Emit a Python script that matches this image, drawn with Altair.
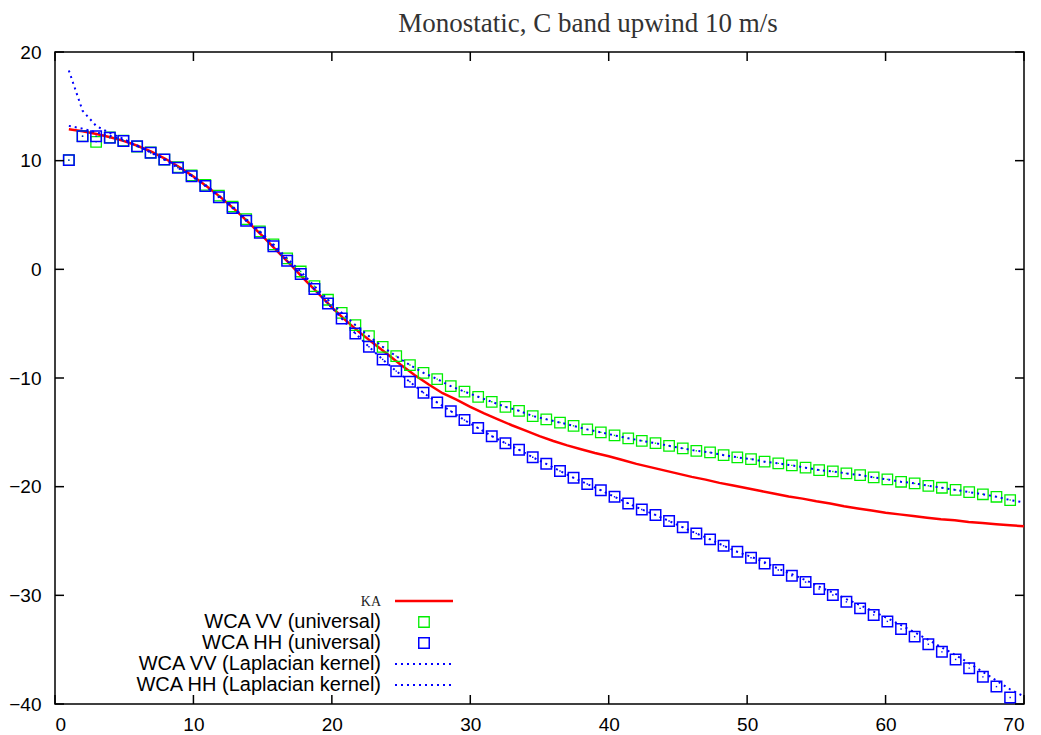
import altair as alt
import pandas as pd

# ---------------- data ----------------
x_grid = [1.00, 1.99, 2.97, 3.96, 4.94, 5.93, 6.91, 7.90, 8.88, 9.87,
          10.86, 11.84, 12.83, 13.81, 14.80, 15.78, 16.77, 17.75, 18.74, 19.72,
          20.71, 21.70, 22.68, 23.67, 24.65, 25.64, 26.62, 27.61, 28.59, 29.58,
          30.57, 31.55, 32.54, 33.52, 34.51, 35.49, 36.48, 37.46, 38.45, 39.43,
          40.42, 41.41, 42.39, 43.38, 44.36, 45.35, 46.33, 47.32, 48.30, 49.29,
          50.28, 51.26, 52.25, 53.23, 54.22, 55.20, 56.19, 57.17, 58.16, 59.14,
          60.13, 61.12, 62.10, 63.09, 64.07, 65.06, 66.04, 67.03, 68.01, 69.00]

vv_universal = [10.05, 12.25, 11.73, 12.15, 11.85, 11.3, 10.75, 10.1, 9.4, 8.65,
                7.78, 6.78, 5.78, 4.62, 3.5, 2.3, 1.0, -0.2, -1.55, -2.8,
                -4.0, -5.13, -6.15, -7.13, -7.99, -8.81, -9.52, -10.1, -10.75, -11.25,
                -11.73, -12.19, -12.65, -13.02, -13.5, -13.8, -14.1, -14.4, -14.73, -15.0,
                -15.28, -15.55, -15.78, -16.0, -16.24, -16.48, -16.7, -16.85, -17.1, -17.3,
                -17.46, -17.7, -17.86, -18.04, -18.25, -18.47, -18.6, -18.78, -18.93, -19.15,
                -19.33, -19.55, -19.7, -19.92, -20.1, -20.3, -20.5, -20.7, -20.93, -21.23]

hh_universal = [10.05, 12.25, 12.25, 12.1, 11.8, 11.33, 10.72, 10.1, 9.34, 8.57,
                7.67, 6.64, 5.65, 4.46, 3.36, 2.13, 0.78, -0.44, -1.82, -3.14,
                -4.52, -5.9, -7.13, -8.29, -9.37, -10.35, -11.36, -12.25, -13.05, -13.87,
                -14.61, -15.35, -16.0, -16.6, -17.3, -17.9, -18.56, -19.18, -19.76, -20.33,
                -20.93, -21.54, -22.1, -22.6, -23.16, -23.74, -24.3, -24.85, -25.44, -25.99,
                -26.54, -27.06, -27.67, -28.2, -28.78, -29.42, -29.97, -30.6, -31.2, -31.8,
                -32.4, -33.1, -33.8, -34.5, -35.2, -35.9, -36.7, -37.5, -38.4, -39.4]

lap_x = x_grid + [70.0]

vv_laplacian = [13.2, 12.95, 12.6, 12.3, 11.9, 11.35, 10.8, 10.15, 9.45, 8.65,
                7.78, 6.78, 5.78, 4.62, 3.5, 2.3, 1.0, -0.2, -1.55, -2.8,
                -4.0, -5.13, -6.15, -7.13, -7.99, -8.81, -9.52, -10.1, -10.75, -11.25,
                -11.73, -12.19, -12.65, -13.02, -13.5, -13.8, -14.1, -14.4, -14.73, -15.0,
                -15.28, -15.55, -15.78, -16.0, -16.24, -16.48, -16.7, -16.85, -17.1, -17.3,
                -17.46, -17.7, -17.86, -18.04, -18.25, -18.47, -18.6, -18.78, -18.93, -19.15,
                -19.33, -19.55, -19.7, -19.92, -20.1, -20.3, -20.5, -20.7, -20.93, -21.23,
                -21.45]

hh_laplacian = [18.3, 14.6, 13.2, 12.55, 12.0, 11.4, 10.75, 10.1, 9.34, 8.57,
                7.67, 6.64, 5.65, 4.46, 3.36, 2.13, 0.78, -0.44, -1.82, -3.14,
                -4.52, -5.9, -7.13, -8.29, -9.37, -10.35, -11.36, -12.25, -13.05, -13.87,
                -14.61, -15.35, -16.0, -16.6, -17.3, -17.9, -18.56, -19.18, -19.76, -20.33,
                -20.93, -21.54, -22.1, -22.6, -23.16, -23.74, -24.3, -24.85, -25.44, -25.99,
                -26.45, -26.95, -27.55, -28.05, -28.6, -29.2, -29.75, -30.35, -30.9, -31.5,
                -32.1, -32.75, -33.4, -34.1, -34.8, -35.5, -36.25, -37.05, -37.85, -38.65,
                -39.3]

ka_x = list(range(1, 71))
ka = [12.9, 12.7, 12.45, 12.15, 11.8, 11.35, 10.8, 10.15, 9.4, 8.55,
      7.6, 6.6, 5.5, 4.3, 3.05, 1.75, 0.45, -0.9, -2.2, -3.5,
      -4.7, -5.8, -6.8, -7.8, -8.8, -9.75, -10.6, -11.4, -12.0, -12.65,
      -13.25, -13.8, -14.35, -14.85, -15.35, -15.8, -16.2, -16.55, -16.9, -17.2,
      -17.55, -17.9, -18.2, -18.5, -18.8, -19.1, -19.35, -19.65, -19.9, -20.15,
      -20.4, -20.65, -20.9, -21.1, -21.35, -21.55, -21.8, -22.0, -22.2, -22.4,
      -22.55, -22.7, -22.85, -23.0, -23.1, -23.25, -23.35, -23.45, -23.55, -23.65]

x_ticks = [0, 10, 20, 30, 40, 50, 60, 70]
y_ticks = [-40, -30, -20, -10, 0, 10, 20]

title_text = "Monostatic, C band upwind 10 m/s"
legend_labels = ["KA", "WCA VV (universal)", "WCA HH (universal)",
                 "WCA VV (Laplacian kernel)", "WCA HH (Laplacian kernel)"]

# ---------------- layout ----------------
W, H = 969, 652
RED, GREEN, BLUE = "#ff0000", "#00ee00", "#0000ff"
SANS = "Liberation Sans"
SERIF = "Liberation Serif"
SQ = 110

xs = alt.Scale(domain=[0, 70], nice=False, zero=False)
ys = alt.Scale(domain=[-40, 20], nice=False, zero=False)

df_ka = pd.DataFrame({"x": ka_x, "y": ka})
df_vv = pd.DataFrame({"x": x_grid, "y": vv_universal})
df_hh = pd.DataFrame({"x": x_grid, "y": hh_universal})
df_vvl = pd.DataFrame({"x": lap_x, "y": vv_laplacian})
df_hhl = pd.DataFrame({"x": lap_x, "y": hh_laplacian})

xenc = alt.X("x:Q", scale=xs,
             axis=alt.Axis(values=x_ticks, title=None, grid=False, domain=False,
                           tickSize=0, labelPadding=11, labelFont=SANS,
                           labelFontSize=19, labelColor="black", format="d"))
yenc = alt.Y("y:Q", scale=ys,
             axis=alt.Axis(values=y_ticks, title=None, grid=False, domain=False,
                           tickSize=0, labelPadding=14, labelFont=SANS,
                           labelFontSize=19, labelColor="black", format="d"))

ka_line = alt.Chart(df_ka).mark_line(color=RED, strokeWidth=2.5).encode(x=xenc, y=yenc)

vv_sq = alt.Chart(df_vv).mark_point(shape="square", filled=False, size=SQ,
                                    color=GREEN, strokeWidth=1.3, opacity=1).encode(x="x:Q", y="y:Q")
vv_dot = alt.Chart(df_vv).mark_point(shape="square", filled=True, size=2,
                                     color=GREEN, opacity=1).encode(x="x:Q", y="y:Q")
hh_sq = alt.Chart(df_hh).mark_point(shape="square", filled=False, size=SQ,
                                    color=BLUE, strokeWidth=1.5, opacity=1).encode(x="x:Q", y="y:Q")
hh_dot = alt.Chart(df_hh).mark_point(shape="square", filled=True, size=2,
                                     color=BLUE, opacity=1).encode(x="x:Q", y="y:Q")

vvl_line = alt.Chart(df_vvl).mark_line(color=BLUE, strokeWidth=2, strokeDash=[2, 4]).encode(x="x:Q", y="y:Q")
hhl_line = alt.Chart(df_hhl).mark_line(color=BLUE, strokeWidth=2, strokeDash=[2, 4]).encode(x="x:Q", y="y:Q")

# inward ticks (gnuplot style) on all four sides
df_xt = pd.DataFrame({"x": x_ticks})
df_yt = pd.DataFrame({"y": y_ticks})
TK = 9
tick_b = alt.Chart(df_xt).mark_rule(color="black", strokeWidth=1.5).encode(
    x="x:Q", y=alt.value(H), y2=alt.value(H - TK))
tick_t = alt.Chart(df_xt).mark_rule(color="black", strokeWidth=1.5).encode(
    x="x:Q", y=alt.value(0), y2=alt.value(TK))
tick_l = alt.Chart(df_yt).mark_rule(color="black", strokeWidth=1.5).encode(
    y="y:Q", x=alt.value(0), x2=alt.value(TK))
tick_r = alt.Chart(df_yt).mark_rule(color="black", strokeWidth=1.5).encode(
    y="y:Q", x=alt.value(W), x2=alt.value(W - TK))

# title as text
title = alt.Chart(pd.DataFrame({"t": [title_text]})).mark_text(
    font=SERIF, fontSize=27, color="#333333", align="center", baseline="alphabetic"
).encode(text="t:N", x=alt.value(533), y=alt.value(-20))

# custom legend (labels on the left, samples on the right, as in gnuplot)
LX = 326
rows = [549, 570, 591, 612, 633]
leg_layers = []
for i, lab in enumerate(legend_labels):
    d = pd.DataFrame({"t": [lab]})
    if i == 0:
        txt = alt.Chart(d).mark_text(font=SERIF, fontSize=14, align="right",
                                     baseline="middle", color="#222222", dy=1)
    else:
        txt = alt.Chart(d).mark_text(font=SANS, fontSize=20, align="right",
                                     baseline="middle", color="black")
    leg_layers.append(txt.encode(text="t:N", x=alt.value(LX), y=alt.value(rows[i])))

leg_layers.append(alt.Chart(pd.DataFrame({"a": [0]})).mark_rule(color=RED, strokeWidth=2.5).encode(
    x=alt.value(340), x2=alt.value(398), y=alt.value(rows[0])))
leg_layers.append(alt.Chart(pd.DataFrame({"a": [0]})).mark_point(
    shape="square", filled=False, size=SQ, color=GREEN, strokeWidth=1.3, opacity=1).encode(
    x=alt.value(369), y=alt.value(rows[1])))
leg_layers.append(alt.Chart(pd.DataFrame({"a": [0]})).mark_point(
    shape="square", filled=False, size=SQ, color=BLUE, strokeWidth=1.5, opacity=1).encode(
    x=alt.value(369), y=alt.value(rows[2])))
for r in rows[3:]:
    leg_layers.append(alt.Chart(pd.DataFrame({"a": [0]})).mark_rule(
        color=BLUE, strokeWidth=2, strokeDash=[2, 4]).encode(
        x=alt.value(340), x2=alt.value(396), y=alt.value(r)))

chart = alt.layer(
    ka_line, vv_sq, vv_dot, hh_sq, hh_dot, vvl_line, hhl_line,
    tick_b, tick_t, tick_l, tick_r, title, *leg_layers
).properties(
    width=W, height=H,
    autosize=alt.AutoSizeParams(type="none"),
    padding={"left": 47, "top": 44, "right": 9, "bottom": 30},
    background="white",
).configure_view(stroke="black", strokeWidth=1.5)

chart.save("out.html", embed_options={"renderer": "svg", "actions": False})
